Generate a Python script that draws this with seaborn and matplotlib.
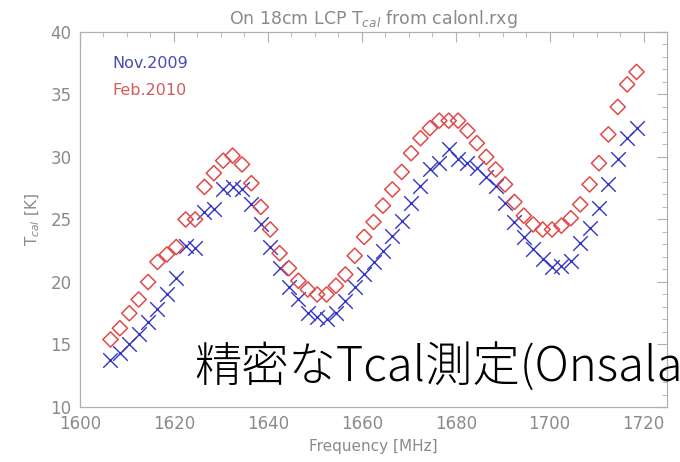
import matplotlib
matplotlib.use("Agg")
import matplotlib.pyplot as plt
from matplotlib.ticker import MultipleLocator
import seaborn as sns
import pandas as pd

freq = [1606.5, 1608.5, 1610.5, 1612.5, 1614.5, 1616.5, 1618.5, 1620.5, 1622.5, 1624.5,
        1626.5, 1628.5, 1630.5, 1632.5, 1634.5, 1636.5, 1638.5, 1640.5, 1642.5, 1644.5,
        1646.5, 1648.5, 1650.5, 1652.5, 1654.5, 1656.5, 1658.5, 1660.5, 1662.5, 1664.5,
        1666.5, 1668.5, 1670.5, 1672.5, 1674.5, 1676.5, 1678.5, 1680.5, 1682.5, 1684.5,
        1686.5, 1688.5, 1690.5, 1692.5, 1694.5, 1696.5, 1698.5, 1700.5, 1702.5, 1704.5,
        1706.5, 1708.5, 1710.5, 1712.5, 1714.5, 1716.5, 1718.5]

tcal_nov2009 = [13.8, 14.3, 15.0, 15.8, 16.8, 17.8, 19.0, 20.3, 22.9, 22.7,
                25.6, 25.8, 27.4, 27.6, 27.4, 26.2, 24.6, 22.8, 21.1, 19.6,
                18.6, 17.5, 17.2, 17.0, 17.5, 18.5, 19.6, 20.6, 21.6, 22.5,
                23.7, 24.9, 26.3, 27.7, 29.0, 29.5, 30.6, 29.8, 29.5, 29.1,
                28.4, 27.7, 26.3, 24.8, 23.6, 22.6, 21.8, 21.2, 21.3, 21.7,
                23.1, 24.3, 25.9, 27.8, 29.8, 31.5, 32.3]

tcal_feb2010 = [15.4, 16.3, 17.5, 18.6, 20.0, 21.6, 22.2, 22.8, 25.0, 25.0,
                27.6, 28.7, 29.7, 30.1, 29.4, 27.9, 26.0, 24.2, 22.3, 21.1,
                20.1, 19.4, 19.0, 19.0, 19.7, 20.6, 22.1, 23.6, 24.8, 26.1,
                27.4, 28.8, 30.3, 31.5, 32.3, 32.9, 32.9, 32.9, 32.1, 31.1,
                30.0, 29.0, 27.8, 26.4, 25.3, 24.6, 24.2, 24.2, 24.5, 25.1,
                26.2, 27.8, 29.5, 31.8, 34.0, 35.8, 36.8]

df = pd.DataFrame({"freq": freq, "nov": tcal_nov2009, "feb": tcal_feb2010})

sns.set_style("white")
plt.rcParams["font.family"] = ["DejaVu Sans"]

grey = "#8a8a8a"
blue = "#3434c4"
red = "#e04a4a"

fig = plt.figure(figsize=(6.8, 4.62), dpi=100)
ax = fig.add_axes([0.1176, 0.119, 0.8634, 0.812])

sns.scatterplot(data=df, x="freq", y="nov", ax=ax, marker="x", s=110,
                color=blue, linewidth=1.0)
sns.scatterplot(data=df, x="freq", y="feb", ax=ax, marker="D", s=60,
                facecolor="none", edgecolor=red, linewidth=1.1)

ax.set_xlim(1600, 1725)
ax.set_ylim(10, 40)
ax.xaxis.set_major_locator(MultipleLocator(20))
ax.xaxis.set_minor_locator(MultipleLocator(5))
ax.yaxis.set_major_locator(MultipleLocator(5))
ax.yaxis.set_minor_locator(MultipleLocator(1))
ax.tick_params(which="both", direction="in", top=True, right=True,
               color="#b0b0b0", labelcolor=grey, labelsize=12, pad=6)
ax.tick_params(which="major", length=7, width=0.8)
ax.tick_params(which="minor", length=3.5, width=0.6)
for sp in ax.spines.values():
    sp.set_color("#b0b0b0")
    sp.set_linewidth(0.9)

ax.set_xlabel("Frequency [MHz]", color=grey, fontsize=11, labelpad=4)
ax.set_ylabel("T$_{cal}$ [K]", color=grey, fontsize=11, labelpad=6)
ax.set_title("On 18cm LCP T$_{cal}$ from calonl.rxg", color=grey, fontsize=12.5, pad=6)

ax.text(0.055, 0.915, "Nov.2009", transform=ax.transAxes, color="#4a4ab4",
        fontsize=11.5, va="center")
ax.text(0.055, 0.843, "Feb.2010", transform=ax.transAxes, color="#d65a5a",
        fontsize=11.5, va="center")

# overlay caption from the slide, runs off the right edge like the original
fig.text(194 / 680, 1 - 381 / 462, "精密なTcal測定(Onsala",
         family=["Noto Sans CJK JP", "DejaVu Sans"], fontsize=34,
         fontweight="light", color="black", va="baseline", ha="left")

fig.savefig("out.png", dpi=100)
